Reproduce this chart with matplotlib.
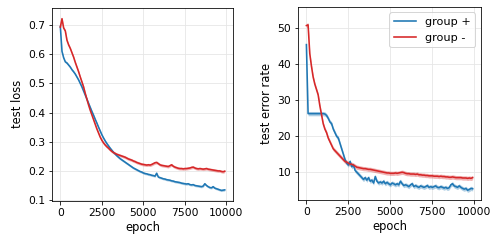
import numpy as np
import matplotlib
matplotlib.use("Agg")
import matplotlib.pyplot as plt

# epochs sampled every 100 steps
epochs = np.arange(0, 10000, 100)

loss_plus = [0.695, 0.610, 0.588, 0.574, 0.570, 0.563, 0.556, 0.547, 0.540, 0.532,
             0.522, 0.512, 0.500, 0.488, 0.474, 0.460, 0.446, 0.432, 0.418, 0.404,
             0.391, 0.377, 0.364, 0.350, 0.337, 0.324, 0.313, 0.303, 0.294, 0.286,
             0.278, 0.271, 0.264, 0.258, 0.252, 0.247, 0.242, 0.238, 0.234, 0.230,
             0.226, 0.222, 0.218, 0.214, 0.210, 0.207, 0.204, 0.201, 0.198, 0.196,
             0.193, 0.191, 0.190, 0.188, 0.187, 0.185, 0.184, 0.182, 0.192, 0.179,
             0.177, 0.175, 0.173, 0.172, 0.170, 0.169, 0.168, 0.166, 0.165, 0.163,
             0.162, 0.161, 0.160, 0.158, 0.157, 0.156, 0.155, 0.156, 0.153, 0.152,
             0.153, 0.150, 0.149, 0.148, 0.147, 0.146, 0.148, 0.156, 0.150, 0.146,
             0.143, 0.142, 0.146, 0.141, 0.139, 0.137, 0.135, 0.133, 0.134, 0.135]

loss_minus = [0.693, 0.722, 0.690, 0.680, 0.648, 0.632, 0.620, 0.605, 0.590, 0.572,
              0.556, 0.540, 0.522, 0.505, 0.488, 0.466, 0.446, 0.426, 0.408, 0.392,
              0.376, 0.360, 0.344, 0.330, 0.316, 0.305, 0.296, 0.289, 0.283, 0.278,
              0.272, 0.267, 0.263, 0.260, 0.257, 0.255, 0.253, 0.251, 0.249, 0.247,
              0.244, 0.241, 0.239, 0.237, 0.234, 0.232, 0.229, 0.227, 0.225, 0.223,
              0.222, 0.221, 0.220, 0.221, 0.220, 0.222, 0.225, 0.228, 0.229, 0.225,
              0.221, 0.219, 0.218, 0.217, 0.216, 0.215, 0.218, 0.221, 0.216, 0.213,
              0.211, 0.209, 0.208, 0.208, 0.207, 0.208, 0.208, 0.209, 0.210, 0.212,
              0.213, 0.210, 0.208, 0.207, 0.208, 0.207, 0.206, 0.207, 0.208, 0.206,
              0.205, 0.204, 0.203, 0.202, 0.201, 0.200, 0.200, 0.198, 0.197, 0.199]

err_plus = [45.5, 26.3, 26.3, 26.3, 26.3, 26.3, 26.3, 26.3, 26.3, 26.3,
            26.3, 26.2, 25.8, 25.0, 24.0, 23.5, 22.0, 21.0, 20.0, 19.5,
            18.0, 16.5, 15.0, 13.5, 12.5, 12.0, 13.0, 11.5, 12.0, 10.5,
            10.0, 9.5, 9.0, 8.5, 8.0, 8.5, 7.8, 8.5, 7.5, 7.8,
            7.0, 8.8, 7.5, 7.0, 7.3, 7.0, 7.5, 6.8, 7.2, 6.8,
            6.5, 7.0, 6.8, 6.5, 6.8, 6.5, 7.5, 6.8, 6.3, 6.5,
            6.3, 6.0, 6.5, 6.8, 6.0, 6.3, 6.0, 5.8, 6.2, 6.0,
            5.8, 6.0, 6.3, 5.8, 6.0, 5.8, 6.0, 6.2, 5.8, 5.7,
            6.0, 5.8, 5.6, 5.8, 5.5, 5.7, 6.5, 6.8, 6.2, 6.0,
            5.8, 6.2, 5.8, 5.5, 5.3, 5.5, 5.0, 5.2, 5.5, 5.4]

err_minus = [50.8, 51.0, 43.0, 39.5, 36.5, 34.5, 33.0, 31.5, 28.5, 26.0,
             23.5, 22.0, 21.0, 19.5, 18.5, 17.5, 16.5, 16.0, 15.5, 15.0,
             14.5, 14.0, 13.5, 13.0, 12.8, 12.5, 12.3, 12.2, 12.0, 11.7,
             11.4, 11.3, 11.2, 11.1, 11.0, 11.0, 10.9, 10.8, 10.8, 10.7,
             10.6, 10.5, 10.4, 10.3, 10.2, 10.1, 10.0, 9.9, 9.8, 9.8,
             9.7, 9.7, 9.7, 9.8, 9.7, 9.8, 9.9, 10.0, 9.9, 9.7,
             9.6, 9.6, 9.5, 9.5, 9.5, 9.4, 9.5, 9.3, 9.3, 9.2,
             9.2, 9.1, 9.1, 9.0, 9.0, 9.0, 8.9, 8.9, 8.9, 8.8,
             8.9, 8.8, 8.8, 8.7, 8.7, 8.6, 8.6, 8.7, 8.6, 8.5,
             8.5, 8.5, 8.5, 8.4, 8.4, 8.4, 8.3, 8.4, 8.3, 8.5]

# half-width of the shaded band
loss_plus_sd = 0.004
loss_minus_sd = 0.005
err_plus_sd = 0.6
err_minus_sd = 0.6

labels = ["group +", "group -"]
colors = ["#1f77b4", "#d62728"]

fig = plt.figure(figsize=(501 / 72, 245 / 72), dpi=72)
ax1 = fig.add_axes([0.104, 0.181, 0.361, 0.788])
ax2 = fig.add_axes([0.595, 0.184, 0.365, 0.788])

for ax, series, sds in [(ax1, [loss_plus, loss_minus], [loss_plus_sd, loss_minus_sd]),
                        (ax2, [err_plus, err_minus], [err_plus_sd, err_minus_sd])]:
 for y, sd, c, lab in zip(series, sds, colors, labels):
  y = np.array(y)
  ax.fill_between(epochs, y - sd, y + sd, color=c, alpha=0.35, lw=0)
  ax.plot(epochs, y, color=c, lw=1.6, label=lab)
 ax.grid(True, color="#e5e5e5", lw=0.8)
 ax.set_axisbelow(True)
 ax.set_xlabel("epoch", fontsize=11.5, labelpad=3)
 ax.set_xlim(-495, 10395)
 ax.set_xticks([0, 2500, 5000, 7500, 10000])
 ax.tick_params(labelsize=10.8)

ax1.set_ylim(0.098, 0.76)
ax1.set_yticks([0.1, 0.2, 0.3, 0.4, 0.5, 0.6, 0.7])
ax1.set_ylabel("test loss", fontsize=11.5)

ax2.set_ylim(2.3, 56)
ax2.set_yticks([10, 20, 30, 40, 50])
ax2.set_ylabel("test error rate", fontsize=11.5)
ax2.legend(loc="upper right", fontsize=11.2)

fig.savefig("out.png", dpi=72)
